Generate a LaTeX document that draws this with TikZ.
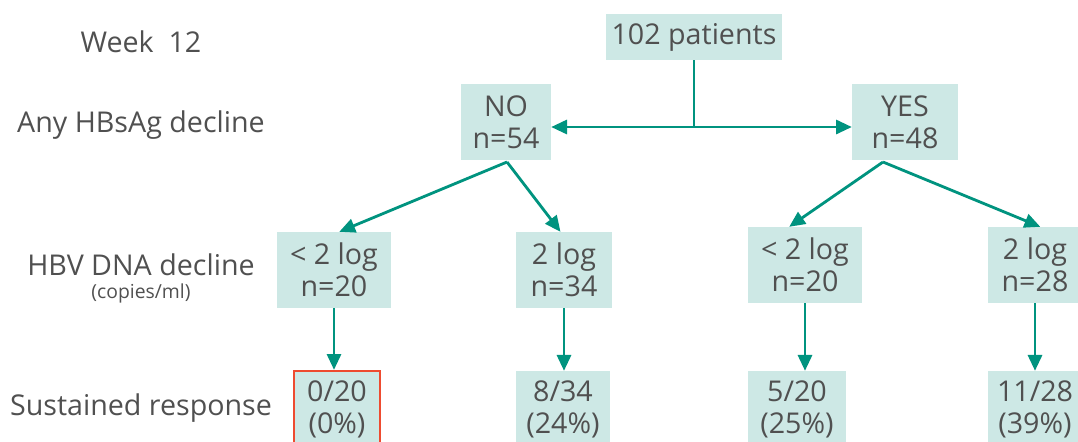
\documentclass[tikz,border=0pt]{standalone}
\usepackage{fontspec}
\setmainfont{Open Sans}
\usepackage{tikz}
\usetikzlibrary{arrows.meta,positioning,calc}
\definecolor{boxfill}{HTML}{CDE8E5}
\definecolor{teal}{HTML}{00937F}
\definecolor{hilite}{HTML}{EE4B30}
\definecolor{txt}{HTML}{505050}
\newcommand{\lbl}{\fontsize{16.3}{18.2}\selectfont}

\begin{document}
\begin{tikzpicture}[x=0.02cm,y=-0.02cm,
    box/.style={fill=boxfill,text=txt,align=center,inner sep=0pt,minimum height=76*0.567pt,font=\lbl},
    arr/.style={draw=teal,line width=1.6pt,-{Triangle[length=9pt,width=8pt]}},
    side/.style={text=txt,font=\lbl}]
    \useasboundingbox (0,0) rectangle (1078,441);
    \clip (0,0) rectangle (1078,441);
    % row labels
    \node[side] (wk) at (141,42) {Week\ \ 12};
    \node[side] (hbs) at (141,125) {Any HBsAg decline};
    \node[side] (dna) at (141,265) {HBV DNA decline};
    \node[text=txt,font=\fontsize{11}{12}\selectfont] (unit) at (141,293) {(copies/ml)};
    \node[side] (sr) at (141,408) {Sustained response};
    % tree
    \node[box,minimum width=176*0.567pt,minimum height=46*0.567pt] (top) at (694,37) {102 patients};
    \node[box,minimum width=90*0.567pt] (no) at (506,122) {NO\\n=54};
    \node[box,minimum width=106*0.567pt] (yes) at (905,122) {YES\\n=48};
    \node[box,minimum width=114*0.567pt] (ll) at (334,270) {< 2 log\\n=20};
    \node[box,minimum width=97*0.567pt] (lr) at (564,270) {2 log\\n=34};
    \node[box,minimum width=114*0.567pt] (rl) at (805,265) {< 2 log\\n=20};
    \node[box,minimum width=94*0.567pt] (rr) at (1035,265) {2 log\\n=28};
    \node[box,minimum width=86*0.567pt,draw=hilite,line width=1.5pt] (sll) at (337,409) {0/20\\(0\%)};
    \node[box,minimum width=95*0.567pt] (slr) at (563,409) {8/34\\(24\%)};
    \node[box,minimum width=99*0.567pt] (srl) at (797,409) {5/20\\(25\%)};
    \node[box,minimum width=94*0.567pt] (srr) at (1035,409) {11/28\\(39\%)};
    % connectors
    \coordinate (split) at (694,127);
    \coordinate (nofork) at (507,162);
    \coordinate (yesfork) at (883,162);
    \draw[teal,line width=1.6pt] (top.south) -- (split);
    \draw[arr] (split) -- (split -| no.east);
    \draw[arr] (split) -- (split -| yes.west);
    \draw[arr] (nofork) -- ([xshift=3pt]ll.north);
    \draw[arr] (nofork) -- ([xshift=-2pt]lr.north);
    \draw[arr] (yesfork) -- ([xshift=-9pt]rl.north);
    \draw[arr] (yesfork) -- ([xshift=3pt]rr.north);
    \foreach \a/\b in {ll/sll,lr/slr,rl/srl,rr/srr}
        \draw[arr] (\a.south) -- (\a.south |- \b.north);
\end{tikzpicture}
\end{document}
